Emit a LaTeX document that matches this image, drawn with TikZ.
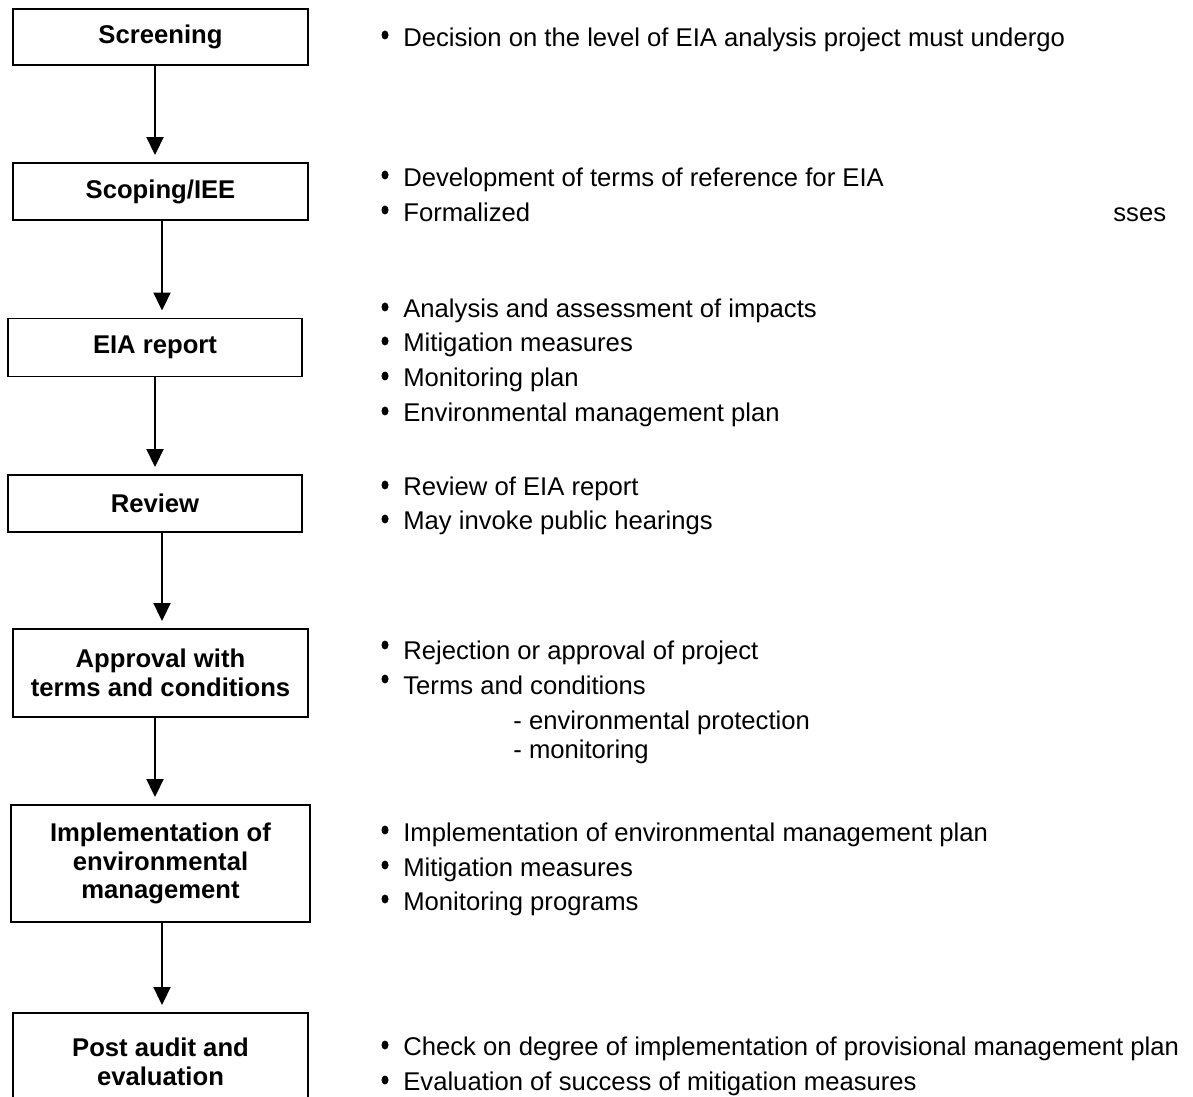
\documentclass[tikz,border=0pt]{standalone}
\usepackage{fontspec}
\setmainfont{Liberation Sans}
\usetikzlibrary{arrows.meta}
\begin{document}
\begin{tikzpicture}[x=0.02cm,y=-0.02cm]
\tikzstyle{every node}=[font=\fontsize{14.6}{16.4}\selectfont]
\tikzstyle{box}=[draw,line width=1.1pt,align=center,inner sep=0pt,
  font=\fontsize{14.6}{16.4}\selectfont\bfseries]
\tikzstyle{item}=[anchor=base west,inner sep=0pt]
\tikzstyle{arr}=[line width=1.1pt,-{Triangle[width=0.34cm,length=0.36cm]},shorten >=0.14cm]

% Fix the page to the picture size
\clip (0,0) rectangle (1193,1097);

%
% Draw the boxes of the process
%

\node[box,minimum width=5.9cm,minimum height=1.12cm] (screen) at (160.5,37) {Screening};
\node[box,minimum width=5.9cm,minimum height=1.14cm] (scope) at (160.5,191.5) {Scoping/IEE};
\node[box,minimum width=5.88cm,minimum height=1.16cm] (report) at (155,347.5) {EIA report};
\node[box,minimum width=5.88cm,minimum height=1.14cm] (review) at (155,503.5) {Review};
\node[box,minimum width=5.9cm,minimum height=1.76cm] (approve) at (160.5,673) {Approval with\\terms and conditions};
\node[box,minimum width=5.98cm,minimum height=2.34cm] (implement) at (160.5,863.5) {Implementation of\\environmental\\management};
\node[box,minimum width=5.9cm,minimum height=1.96cm] (audit) at (160.5,1062) {Post audit and\\evaluation};

%
% Draw the arrows between the boxes
%

\draw[arr] ([xshift=-0.11cm]screen.south) -- ([xshift=-0.11cm]screen.south |- scope.north);
\draw[arr] ([xshift=0.03cm]scope.south) -- ([xshift=0.03cm]scope.south |- report.north);
\draw[arr] (report.south) -- (report.south |- review.north);
\draw[arr] ([xshift=0.14cm]review.south) -- ([xshift=0.14cm]review.south |- approve.north);
\draw[arr] ([xshift=-0.11cm]approve.south) -- ([xshift=-0.11cm]approve.south |- implement.north);
\draw[arr] ([xshift=0.03cm]implement.south) -- ([xshift=0.03cm]implement.south |- audit.north);

%
% Draw the bullets on the right
%

\fill (385,35) ellipse (0.07cm and 0.09cm);
\fill (385,175) ellipse (0.07cm and 0.09cm);
\fill (385,210) ellipse (0.07cm and 0.09cm);
\fill (385,307) ellipse (0.07cm and 0.09cm);
\fill (385,341) ellipse (0.07cm and 0.09cm);
\fill (385,376) ellipse (0.07cm and 0.09cm);
\fill (385,411) ellipse (0.07cm and 0.09cm);
\fill (385,485) ellipse (0.07cm and 0.09cm);
\fill (385,519) ellipse (0.07cm and 0.09cm);
\fill (385,645) ellipse (0.07cm and 0.09cm);
\fill (385,679) ellipse (0.07cm and 0.09cm);
\fill (385,830) ellipse (0.07cm and 0.09cm);
\fill (385,865) ellipse (0.07cm and 0.09cm);
\fill (385,899) ellipse (0.07cm and 0.09cm);
\fill (385,1045) ellipse (0.07cm and 0.09cm);
\fill (385,1080) ellipse (0.07cm and 0.09cm);

%
% Write the notes on the right
%

\node[item] (n1) at (403,47) {Decision on the level of EIA analysis project must undergo};

\node[item] (n2a) at (403,187) {Development of terms of reference for EIA};
\node[item] (n2b) at (403,222) {Formalized};
\node[item] (n2c) at (1113,222) {sses};

\node[item] (n3a) at (403,318) {Analysis and assessment of impacts};
\node[item] (n3b) at (403,352) {Mitigation measures};
\node[item] (n3c) at (403,387) {Monitoring plan};
\node[item] (n3d) at (403,422) {Environmental management plan};

\node[item] (n4a) at (403,496) {Review of EIA report};
\node[item] (n4b) at (403,530) {May invoke public hearings};

\node[item] (n5a) at (403,660) {Rejection or approval of project};
\node[item] (n5b) at (403,694) {Terms and conditions};
\node[item] (n5c) at (513,729) {- environmental protection};
\node[item] (n5d) at (513,758) {- monitoring};

\node[item] (n6a) at (403,841) {Implementation of environmental management plan};
\node[item] (n6b) at (403,876) {Mitigation measures};
\node[item] (n6c) at (403,910) {Monitoring programs};

\node[item] (n7a) at (403,1055) {Check on degree of implementation of provisional management plan};
\node[item] (n7b) at (403,1090) {Evaluation of success of mitigation measures};

\end{tikzpicture}
\end{document}
